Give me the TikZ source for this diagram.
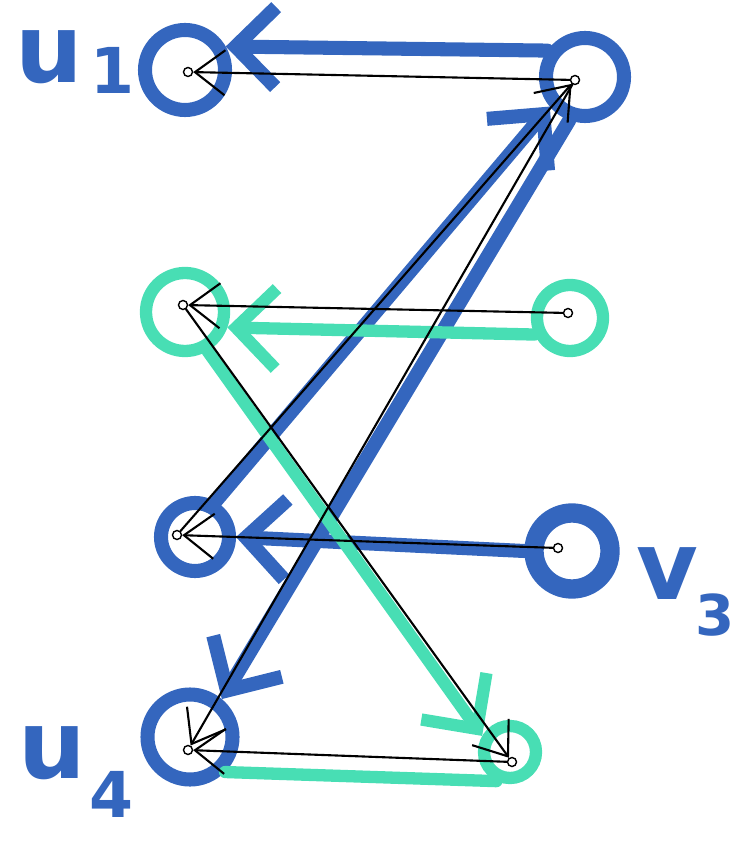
\documentclass[tikz,border=0pt]{standalone}
\usepackage{fontspec}
\setmainfont{DejaVu Sans}
\usetikzlibrary{arrows.meta}
\definecolor{marker}{RGB}{52,102,190}
\definecolor{mint}{RGB}{72,222,180}
\begin{document}
\begin{tikzpicture}[line cap=round,
  bluev/.style={circle, draw=marker, line width=4pt, minimum size=#1},
  mintv/.style={circle, draw=mint, line width=3.5pt, minimum size=#1},
  dot/.style={circle, draw, thin, inner sep=0pt, minimum size=0.9mm},
  bstroke/.style={draw=marker, line width=4pt, -{Straight Barb[length=4mm, width=8mm]}},
  tstroke/.style={draw=mint, line width=3.5pt, -{Straight Barb[length=4mm, width=8mm]}},
  pen/.style={draw=black, line width=0.6pt, -{Straight Barb[length=3mm, width=4.5mm]}},
  lbl/.style={text=marker, inner sep=0pt, font=\bfseries\fontsize{27}{27}\selectfont}]
\useasboundingbox (0,0) rectangle (7.36,-8.67);
% big circles
\node[bluev=0.8cm] (u1) at (1.85,-0.70) {};
\node[bluev=0.78cm] (v1) at (5.85,-0.77) {};
\node[mintv=0.78cm] (u2) at (1.85,-3.12) {};
\node[mintv=0.66cm] (v2) at (5.70,-3.18) {};
\node[bluev=0.68cm] (u3) at (1.95,-5.37) {};
\node[bluev=0.76cm, line width=5.5pt] (v3) at (5.72,-5.51) {};
\node[bluev=0.85cm] (u4) at (1.90,-7.37) {};
\node[mintv=0.52cm] (v4) at (5.10,-7.52) {};
% small inner dots
\node[dot] (u1d) at (1.88,-0.72) {};
\node[dot] (v1d) at (5.75,-0.80) {};
\node[dot] (u2d) at (1.83,-3.05) {};
\node[dot] (v2d) at (5.68,-3.13) {};
\node[dot] (u3d) at (1.77,-5.35) {};
\node[dot] (v3d) at (5.58,-5.48) {};
\node[dot] (u4d) at (1.88,-7.50) {};
\node[dot] (v4d) at (5.12,-7.62) {};
% labels
\node[lbl, anchor=west] (lu1) at (0.15,-0.62) {u\kern2pt\raisebox{-3pt}{\fontsize{18}{18}\selectfont 1}};
\node[lbl, anchor=west] (lv3) at (6.36,-5.92) {v\kern-1pt\raisebox{-10pt}{\fontsize{16}{16}\selectfont 3}};
\node[lbl, anchor=west] (lu4) at (0.18,-7.72) {u\kern1pt\raisebox{-11pt}{\fontsize{18}{18}\selectfont 4}};
% marker strokes
\draw[bstroke] (v1.145) -- (u1.30);
\draw[bstroke] (u3.60) -- (v1.220);
\draw[bstroke] (v1.250) -- (u4.50);
\draw[bstroke] (v3.180) -- (u3.0);
\draw[tstroke] (v2.205) -- (u2.340);
\draw[tstroke] (u2.300) -- (v4.150);
\draw[draw=mint, line width=3.5pt] (v4.245) -- (u4.315);
% pen lines
\draw[pen] (v1d) -- (u1d);
\draw[pen] (v2d) -- (u2d);
\draw[pen] (v3d) -- (u3d);
\draw[pen] (u3d) -- (v1d);
\draw[pen] (v1d) -- (u4d);
\draw[pen] (u2d) -- (v4d);
\draw[pen] (v4d) -- (u4d);
\end{tikzpicture}
\end{document}
